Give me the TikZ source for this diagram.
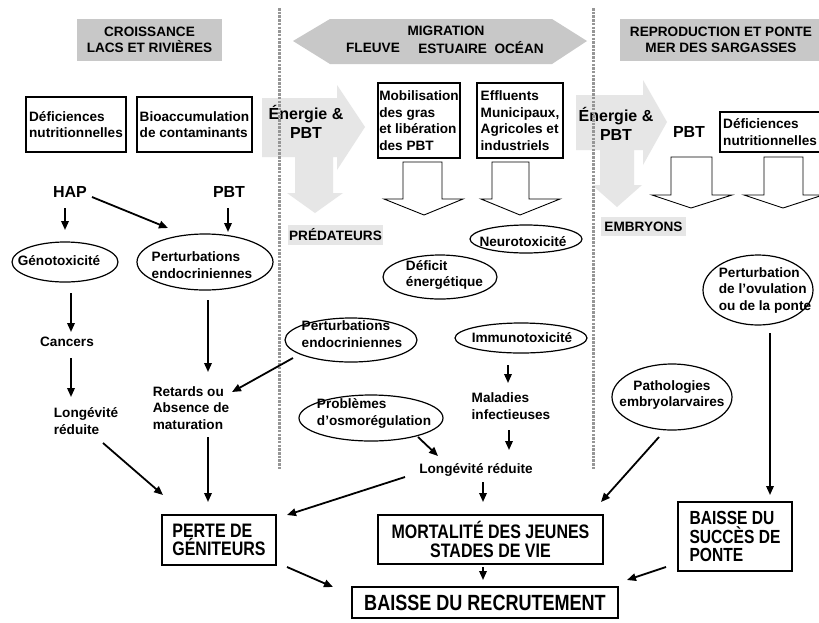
\documentclass[tikz,border=0pt]{standalone}
\usepackage{fontspec}
\setmainfont{Liberation Sans}
\newfontfamily\narrowfont{Liberation Sans}[FakeStretch=0.82]
\usetikzlibrary{arrows.meta,shapes.geometric}
\definecolor{hdrgray}{RGB}{200,200,200}
\definecolor{lightgraytwo}{RGB}{230,230,230}
\definecolor{dashgray}{RGB}{150,150,150}
\begin{document}
\begin{tikzpicture}[x=1pt,y=-1pt,
  every node/.style={font=\bfseries\fontsize{13.6}{16.5}\selectfont, inner sep=0pt},
  txt/.style={align=left},
  ctxt/.style={align=center},
  box/.style={draw=black, line width=1.5pt, align=left},
  ell/.style={draw=black, ellipse, line width=1.2pt, inner sep=0pt},
  arr/.style={line width=1.8pt, -{Triangle[length=9pt,width=7.5pt]}},
  big/.style={font=\bfseries\fontsize{16}{19.5}\selectfont},
  narrowA/.style={font=\narrowfont\bfseries\fontsize{19.5}{18.5}\selectfont},
  narrowB/.style={font=\narrowfont\bfseries\fontsize{22}{22}\selectfont},
  narrowC/.style={font=\narrowfont\bfseries\fontsize{19}{18.5}\selectfont},
  blockarrow/.style={draw=black, line width=0.9pt, fill=white},
  dashsep/.style={draw=dashgray, line width=3pt, dash pattern=on 2.5pt off 1.2pt}
]
\useasboundingbox (0,0) rectangle (819,622);
\fill[white] (0,0) rectangle (819,622);

% headers
\fill[hdrgray] (77,19) rectangle (222,61);
\node[ctxt] (hcroiss) at (149.5,40) {CROISSANCE\\LACS ET RIVIÈRES};
\fill[hdrgray] (293,41) -- (330,19) -- (552,19) -- (587,41) -- (552,64) -- (330,64) -- cycle;
\node (hmig) at (446,31) {MIGRATION};
\node (hfl) at (373,48) {FLEUVE};
\node (hes) at (481,48) {ESTUAIRE\ \ OCÉAN};
\fill[hdrgray] (620,19) rectangle (830,61);
\node[ctxt] (hrep) at (721,40) {REPRODUCTION ET PONTE\\MER DES SARGASSES};

% energy arrows
\fill[lightgraytwo] (262,98) -- (337,98) -- (337,85) -- (365,127) -- (337,170) -- (337,157) -- (333,157) -- (333,193) -- (343,193) -- (315,213) -- (287,193) -- (295,193) -- (295,157) -- (262,157) -- cycle;
\node[big, ctxt] (enL) at (306,122) {Énergie \&\\PBT};
\fill[lightgraytwo] (576,95) -- (643,95) -- (643,80) -- (667,122) -- (643,165) -- (643,150) -- (634,150) -- (634,185) -- (642,185) -- (617,207) -- (592,185) -- (600,185) -- (600,150) -- (576,150) -- cycle;
\node[big, ctxt] (enR) at (616,124) {Énergie \&\\PBT};
\node[fill=lightgraytwo, minimum width=95pt, minimum height=20pt] (pred) at (335.5,235) {PRÉDATEURS};
\node[fill=lightgraytwo, minimum width=85pt, minimum height=19pt] (embr) at (643.5,226.5) {EMBRYONS};

% separators
\draw[dashsep] (279,8) -- (279,470);
\draw[dashsep] (593,8) -- (593,470);

% top boxes
\node[box, minimum width=100pt, minimum height=55pt] (defL) at (76,124.5) {Déficiences\\nutritionnelles};
\node[box, minimum width=115pt, minimum height=55pt] (bio) at (194.5,124.5) {Bioaccumulation\\de contaminants};
\node[box, minimum width=82pt, minimum height=75pt] (mob) at (419,120.5) {Mobilisation\\des gras\\et libération\\des PBT};
\node[box, minimum width=86pt, minimum height=75pt] (eff) at (520,120.5) {Effluents\\Municipaux,\\Agricoles et\\industriels};
\node[box, minimum width=110pt, minimum height=40pt] (defR) at (775,132) {};
\node[txt, anchor=west] (defRT) at (723,132) {Déficiences\\nutritionnelles};
\node[big] (pbtR) at (689,132) {PBT};

% open block arrows
\draw[blockarrow] (403,162) -- (442,162) -- (442,199) -- (463,199) -- (424,215) -- (384,199) -- (403,199) -- cycle;
\draw[blockarrow] (492,162) -- (529,162) -- (529,199) -- (560,199) -- (520,215) -- (481,199) -- (492,199) -- cycle;
\draw[blockarrow] (671,157) -- (712,157) -- (712,195) -- (732,195) -- (691,208) -- (652,195) -- (671,195) -- cycle;
\draw[blockarrow] (764,157) -- (803,157) -- (803,195) -- (823,195) -- (783,208) -- (744,195) -- (764,195) -- cycle;

% ellipses
\node[ell, minimum width=106pt, minimum height=40pt] (geno) at (65,262) {};
\node (genoT) at (59,261) {Génotoxicité};
\node[ell, minimum width=136pt, minimum height=56pt] (perL) at (205,262) {};
\node[txt] (perLT) at (202,265) {Perturbations\\endocriniennes};
\node[ell, minimum width=132pt, minimum height=44pt] (perM) at (351,340) {};
\node[txt] (perMT) at (352,334) {Perturbations\\endocriniennes};
\node[ell, minimum width=112pt, minimum height=28pt] (neuro) at (526,239) {};
\node (neuroT) at (523,242) {Neurotoxicité};
\node[ell, minimum width=114pt, minimum height=44pt] (deficit) at (440,277) {};
\node[txt] (deficitT) at (444.5,275) {Déficit\\énergétique};
\node[ell, minimum width=132pt, minimum height=30pt] (immuno) at (521,338) {};
\node (immunoT) at (522,338) {Immunotoxicité};
\node[ell, minimum width=144pt, minimum height=46pt] (probl) at (371,418) {};
\node[txt] (problT) at (374,413.5) {Problèmes\\d’osmorégulation};
\node[ell, minimum width=120pt, minimum height=66pt] (patho) at (672,397) {};
\node[ctxt] (pathoT) at (672,395) {Pathologies\\embryolarvaires};
\node[ell, minimum width=110pt, minimum height=70pt] (ovul) at (758,290) {};
\node[txt] (ovulT) at (765,290) {Perturbation\\de l’ovulation\\ou de la ponte};

% plain texts
\node[big] (hap) at (70,192) {HAP};
\node[big] (pbtL) at (229,192) {PBT};
\node (cancers) at (67,342) {Cancers};
\node[txt] (longL) at (86,421) {Longévité\\réduite};
\node[txt] (retards) at (191,408) {Retards ou\\Absence de\\maturation};
\node[txt] (maladies) at (511,406) {Maladies\\infectieuses};
\node (longM) at (476,470) {Longévité réduite};

% bottom boxes
\node[box, narrowA, minimum width=114pt, minimum height=50pt] (perte) at (219,540) {PERTE DE\\GÉNITEURS};
\node[box, narrowA, align=center, minimum width=225pt, minimum height=49pt] (mort) at (490.5,539.5) {MORTALITÉ DES JEUNES\\STADES DE VIE};
\node[box, narrowB, minimum width=266pt, minimum height=31pt] (baisseR) at (485,602.5) {BAISSE DU RECRUTEMENT};
\node[box, narrowC, minimum width=114pt, minimum height=69pt] (baisseS) at (735,536.5) {BAISSE DU\\SUCCÈS DE\\PONTE};

% connectors
\draw[arr] ([shift={(-5,16)}]hap.center) -- ([shift={(0,-32)}]geno.center);
\draw[arr] ([shift={(22,5)}]hap.center) -- ([shift={(-37,-34)}]perL.center);
\draw[arr] ([shift={(-1,16)}]pbtL.center) -- ([shift={(23,-30)}]perL.center);
\draw[arr] ([shift={(6,31)}]geno.center) -- ([shift={(4,-10)}]cancers.center);
\draw[arr] ([shift={(4,16)}]cancers.center) -- ([shift={(-15,-24)}]longL.center);
\draw[arr] ([shift={(3,38)}]perL.center) -- ([shift={(17,-36)}]retards.center);
\draw[arr] ([shift={(-58,18)}]perM.center) -- ([shift={(41,-16)}]retards.center);
\draw[arr] ([shift={(17,22)}]longL.center) -- ([shift={(-56,-45)}]perte.center);
\draw[arr] ([shift={(17,29)}]retards.center) -- ([shift={(-11,-38)}]perte.center);
\draw[arr] ([shift={(-71,7)}]longM.center) -- ([shift={(68,-25)}]perte.center);
\draw[arr] ([shift={(68,27)}]perte.center) -- ([shift={(-152,-15.5)}]baisseR.center);
\draw[arr] ([shift={(-13,27)}]immuno.center) -- ([shift={(-3,-23)}]maladies.center);
\draw[arr] ([shift={(-2,24)}]maladies.center) -- ([shift={(33,-20)}]longM.center);
\draw[arr] ([shift={(47,19)}]probl.center) -- ([shift={(-38,-14)}]longM.center);
\draw[arr] ([shift={(7,12)}]longM.center) -- ([shift={(-7.5,-37.5)}]mort.center);
\draw[arr] ([shift={(-7.5,27.5)}]mort.center) -- ([shift={(-2,-22.5)}]baisseR.center);
\draw[arr] ([shift={(-13,40)}]patho.center) -- ([shift={(110.5,-37.5)}]mort.center);
\draw[arr] ([shift={(12,43)}]ovul.center) -- ([shift={(35,-41.5)}]baisseS.center);
\draw[arr] ([shift={(-69,30.5)}]baisseS.center) -- ([shift={(142,-22.5)}]baisseR.center);
\end{tikzpicture}
\end{document}
